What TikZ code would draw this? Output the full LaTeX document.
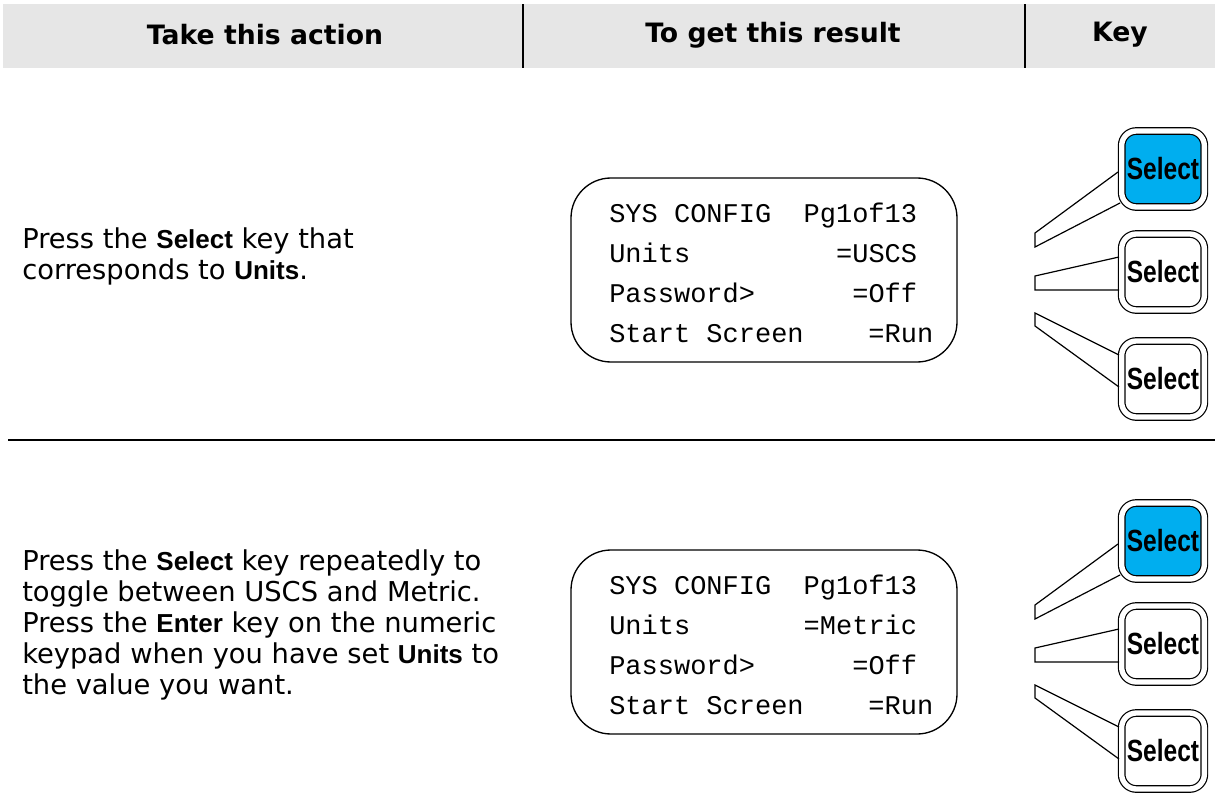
\documentclass[tikz,border=0pt]{standalone}
\usepackage{fontspec}
\setmainfont{DejaVu Sans}
\setmonofont{Liberation Mono}
\newfontfamily\arialfont{Liberation Sans}
\newfontfamily\keyfont[FakeStretch=0.8]{Liberation Sans}
\usepackage{xcolor}
\definecolor{hdrgray}{RGB}{230,230,230}
\definecolor{keyblue}{RGB}{0,174,239}
\usetikzlibrary{calc}
\newcommand{\kw}[1]{{\arialfont\bfseries\fontsize{19.5}{23.25}\selectfont #1}}

\tikzset{
  hdrtext/.style={font=\fontsize{20}{24}\selectfont\bfseries, inner sep=0pt},
  actiontext/.style={font=\fontsize{20.5}{23.25}\selectfont, align=left, anchor=base west, inner sep=0pt},
  screen/.style={draw, line width=1pt, rounded corners=30pt, minimum width=289.5pt, minimum height=138pt},
  screentext/.style={font=\ttfamily\fontsize{20.25}{29.8}\selectfont, align=left, anchor=base west, inner sep=0pt},
  selkey/.style={draw, double=white, double distance=4pt, line width=0.9pt, rounded corners=11pt,
    minimum width=62pt, minimum height=57pt, inner sep=0pt, outer sep=3pt,
    font=\keyfont\bfseries\fontsize{23}{23}\selectfont},
  leader/.style={line width=0.9pt, line join=miter}
}

\begin{document}
\begin{tikzpicture}[x=0.75pt, y=-0.75pt]
  \useasboundingbox (0,0) rectangle (1215,810);

  % Header row
  \fill[hdrgray] (3,4) rectangle (1215,68);
  \draw[line width=0.8pt] (523,4) -- (523,68);
  \draw[line width=0.8pt] (1025,4) -- (1025,68);
  \node[hdrtext] (hdrAction) at (265,35) {Take this action};
  \node[hdrtext] (hdrResult) at (773,35) {To get this result};
  \node[hdrtext] (hdrKey) at (1120,35) {Key};

  % Step 1 (anchored on the last line)
  \node[actiontext] (act1) at (22,279)
       {Press the \kw{Select} key that\\corresponds to \kw{Units}.};
  \node[screen] (scr1) at (764,270) {};
  \node[screentext] (txt1) at (609,342)
       {SYS~CONFIG~~Pg1of13\\Units~~~~~~~~~=USCS\\Password>~~~~~~=Off\\Start~Screen~~~~=Run};

  \node[selkey, fill=keyblue] (sel1a) at (1163,169) {Select};
  \node[selkey] (sel1b) at (1163,272) {Select};
  \node[selkey] (sel1c) at (1163,379) {Select};
  \coordinate (l1a) at (1035,233);
  \coordinate (l1b) at (1035,247);
  \coordinate (l1c) at (1035,276);
  \coordinate (l1d) at (1035,290);
  \coordinate (l1e) at (1035,313);
  \coordinate (l1f) at (1035,326);
  \draw[leader] ($(sel1a)+(-45,3)$) -- (l1a) -- (l1b) -- ($(sel1a)+(-43,34)$);
  \draw[leader] ($(sel1b)+(-44,-15)$) -- (l1c) -- (l1d) -- ($(sel1b)+(-44,18)$);
  \draw[leader] ($(sel1c)+(-44,-24)$) -- (l1e) -- (l1f) -- ($(sel1c)+(-44,8)$);

  % Separator
  \draw[line width=1.1pt] (8,440) -- (1215,440);

  % Step 2
  \node[actiontext] (act2) at (22,694)
       {Press the \kw{Select} key repeatedly to\\toggle between USCS and Metric.\\Press the \kw{Enter} key on the numeric\\keypad when you have set \kw{Units} to\\the value you want.};
  \node[screen] (scr2) at (764,642) {};
  \node[screentext] (txt2) at (609,714)
       {SYS~CONFIG~~Pg1of13\\Units~~~~~~~=Metric\\Password>~~~~~~=Off\\Start~Screen~~~~=Run};

  \node[selkey, fill=keyblue] (sel2a) at (1163,541) {Select};
  \node[selkey] (sel2b) at (1163,644) {Select};
  \node[selkey] (sel2c) at (1163,751) {Select};
  \coordinate (l2a) at (1035,605);
  \coordinate (l2b) at (1035,619);
  \coordinate (l2c) at (1035,648);
  \coordinate (l2d) at (1035,662);
  \coordinate (l2e) at (1035,685);
  \coordinate (l2f) at (1035,698);
  \draw[leader] ($(sel2a)+(-45,3)$) -- (l2a) -- (l2b) -- ($(sel2a)+(-43,34)$);
  \draw[leader] ($(sel2b)+(-44,-15)$) -- (l2c) -- (l2d) -- ($(sel2b)+(-44,18)$);
  \draw[leader] ($(sel2c)+(-44,-24)$) -- (l2e) -- (l2f) -- ($(sel2c)+(-44,8)$);
\end{tikzpicture}
\end{document}
